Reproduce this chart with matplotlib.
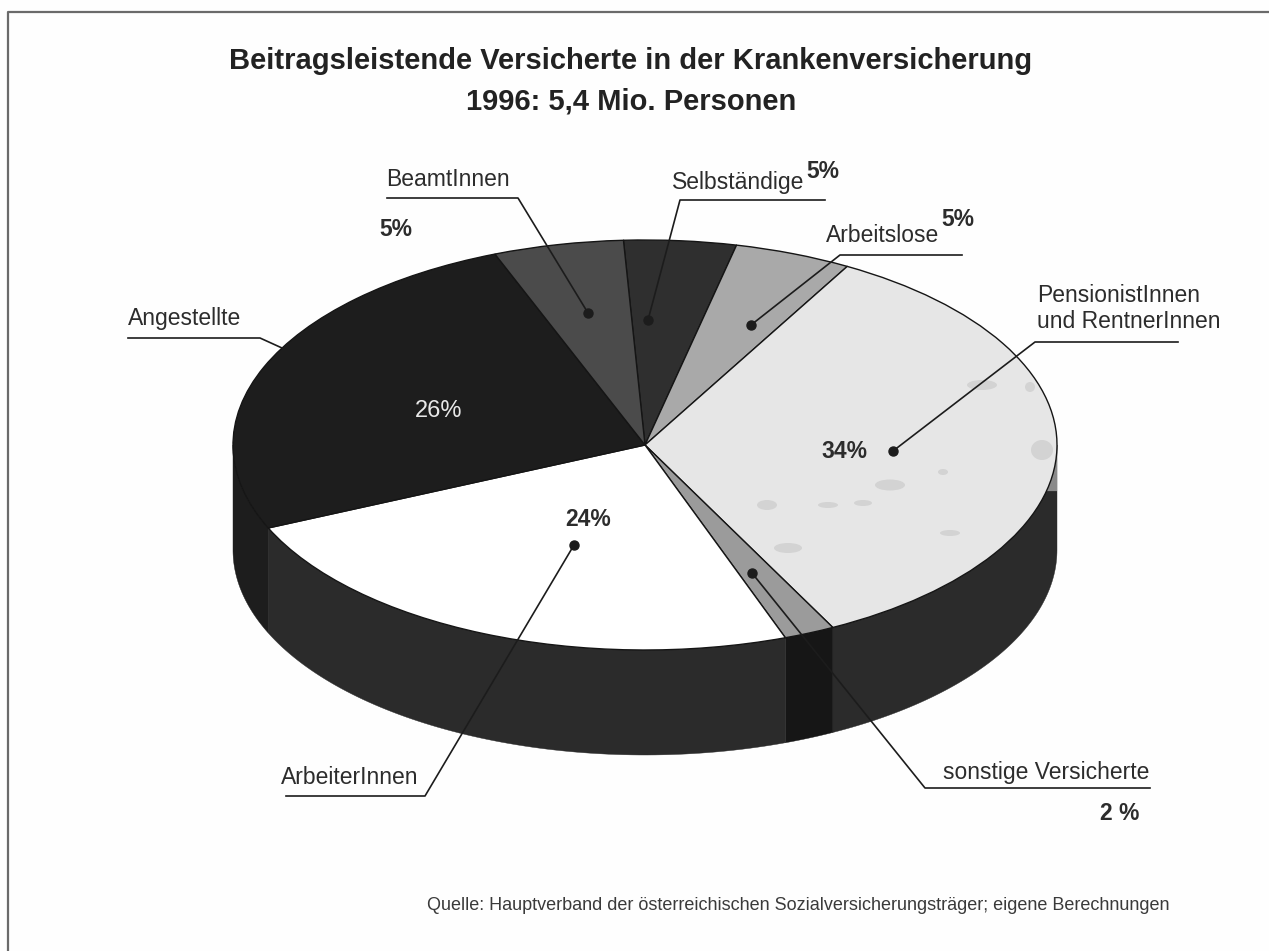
#!/usr/bin/env python3
import numpy as np
from matplotlib import pyplot as plt
from matplotlib.patches import Ellipse

# slice sizes (percent), clockwise from the top of the pie
groups = ['Selbständige', 'Arbeitslose', 'PensionistInnen und RentnerInnen',
          'sonstige Versicherte', 'ArbeiterInnen', 'Angestellte', 'BeamtInnen']
shares = [4.4, 4.6, 34.3, 2.0, 23.9, 25.7, 5.1]
top_colors = ['#2f2f2f', '#a9a9a9', '#e6e6e6', '#9b9b9b', '#ffffff', '#1d1d1d', '#4b4b4b']
side_colors = ['#2f2f2f', '#a9a9a9', '#2b2b2b', '#161616', '#2b2b2b', '#1d1d1d', '#4b4b4b']

title_lines = ['Beitragsleistende Versicherte in der Krankenversicherung',
               '1996: 5,4 Mio. Personen']
source_text = 'Quelle: Hauptverband der österreichischen Sozialversicherungsträger; eigene Berechnungen'

W, H = 1269, 951
CX, CY = 645, 445     # pie centre in pixels
RX, RY = 412, 205     # ellipse radii in pixels
DEPTH = 105 / RY      # height of the pie wall
START = 93
INK = '#2c2c2c'

plt.rcParams['font.family'] = ['Liberation Sans', 'DejaVu Sans']

fig = plt.figure(figsize=(W / 100, H / 100), dpi=100, facecolor='#fefefe')

# pie axes: one data unit is one radius, so the circle becomes the ellipse
ax = fig.add_axes([0, 0, 1, 1])
ax.pie(shares, colors=top_colors, startangle=START, counterclock=False,
       wedgeprops={'edgecolor': '#151515', 'linewidth': 1.0, 'zorder': 3})
ax.set_aspect('auto')
ax.set_xlim(-CX / RX, (W - CX) / RX)
ax.set_ylim((CY - H) / RY, CY / RY)
ax.axis('off')

# wall of the pie, only the part facing the viewer
edges = START - np.cumsum([0] + shares) / sum(shares) * 360
for i in range(len(shares)):
    a0, a1 = edges[i + 1], edges[i]
    for turn in (0, -360):
        lo = max(a0 + turn, -180)
        hi = min(a1 + turn, 0)
        if lo >= hi:
            continue
        t = np.radians(np.linspace(lo, hi, 80))
        x = np.cos(t)
        y = np.sin(t)
        ax.fill(np.r_[x, x[::-1]], np.r_[y, y[::-1] - DEPTH],
                color=side_colors[i], lw=0.3, zorder=1)

# grey sliver at the right end of the wall
t = np.radians(np.linspace(-13, 0, 30))
ax.fill(np.r_[np.cos(t), 1, 1], np.r_[np.sin(t), 0, np.sin(t[0])],
        color='#8a8a8a', lw=0, zorder=2)

# overlay in pixel coordinates for frame, leaders and text
ov = fig.add_axes([0, 0, 1, 1], facecolor='none')
ov.set_xlim(0, W)
ov.set_ylim(H, 0)
ov.axis('off')

ov.plot([8, 8, W], [H, 12, 12], color='#6a6a6a', lw=1.6)

# darker blotches of the print on the light slice
blotches = [(767, 505, 20, 10), (828, 505, 20, 6), (863, 503, 18, 6),
            (890, 485, 30, 11), (943, 472, 10, 6), (788, 548, 28, 10),
            (950, 533, 20, 6), (982, 385, 30, 10), (1042, 450, 22, 20),
            (1030, 387, 10, 10)]
for bx, by, bw, bh in blotches:
    ov.add_patch(Ellipse((bx, by), bw, bh, color='#d3d3d3', lw=0, zorder=1))

# leader lines: x list, y list, and whether the end has a dot
leaders = [
    ([387, 518, 588], [198, 198, 313], True),
    ([825, 680, 648], [200, 200, 320], True),
    ([962, 840, 751], [255, 255, 325], True),
    ([1178, 1035, 893], [342, 342, 451], True),
    ([128, 260, 282], [338, 338, 348], False),
    ([286, 425, 574], [796, 796, 545], True),
    ([1150, 925, 752], [788, 788, 573], True),
]
for xs, ys, dot in leaders:
    ov.plot(xs, ys, color='#1c1c1c', lw=1.2, zorder=4)
    if dot:
        ov.plot(xs[-1], ys[-1], 'o', color='#1c1c1c', ms=6.5, zorder=5)

for line, y in zip(title_lines, [61, 101]):
    ov.text(631, y, line, ha='center', va='center', fontsize=21,
            fontweight='bold', color='#222222')

labels = [
    (386, 180, 'BeamtInnen'),
    (672, 182, 'Selbständige'),
    (826, 236, 'Arbeitslose'),
    (1037, 296, 'PensionistInnen'),
    (1037, 322, 'und RentnerInnen'),
    (128, 319, 'Angestellte'),
    (281, 778, 'ArbeiterInnen'),
    (943, 772, 'sonstige Versicherte'),
]
for x, y, s in labels:
    ov.text(x, y, s, ha='left', va='center', fontsize=16.5, color=INK)

pct = [
    (379, 229, '5%'),
    (806, 172, '5%'),
    (941, 219, '5%'),
    (821, 452, '34%'),
    (565, 520, '24%'),
    (1100, 813, '2 %'),
]
for x, y, s in pct:
    ov.text(x, y, s, ha='left', va='center', fontsize=16.5, fontweight='bold', color=INK)
ov.text(415, 411, '26%', ha='left', va='center', fontsize=17, color='#e8e8e8')

ov.text(427, 906, source_text, ha='left', va='center', fontsize=13, color='#3a3a3a')

fig.savefig('out.png', dpi=100, facecolor=fig.get_facecolor())
